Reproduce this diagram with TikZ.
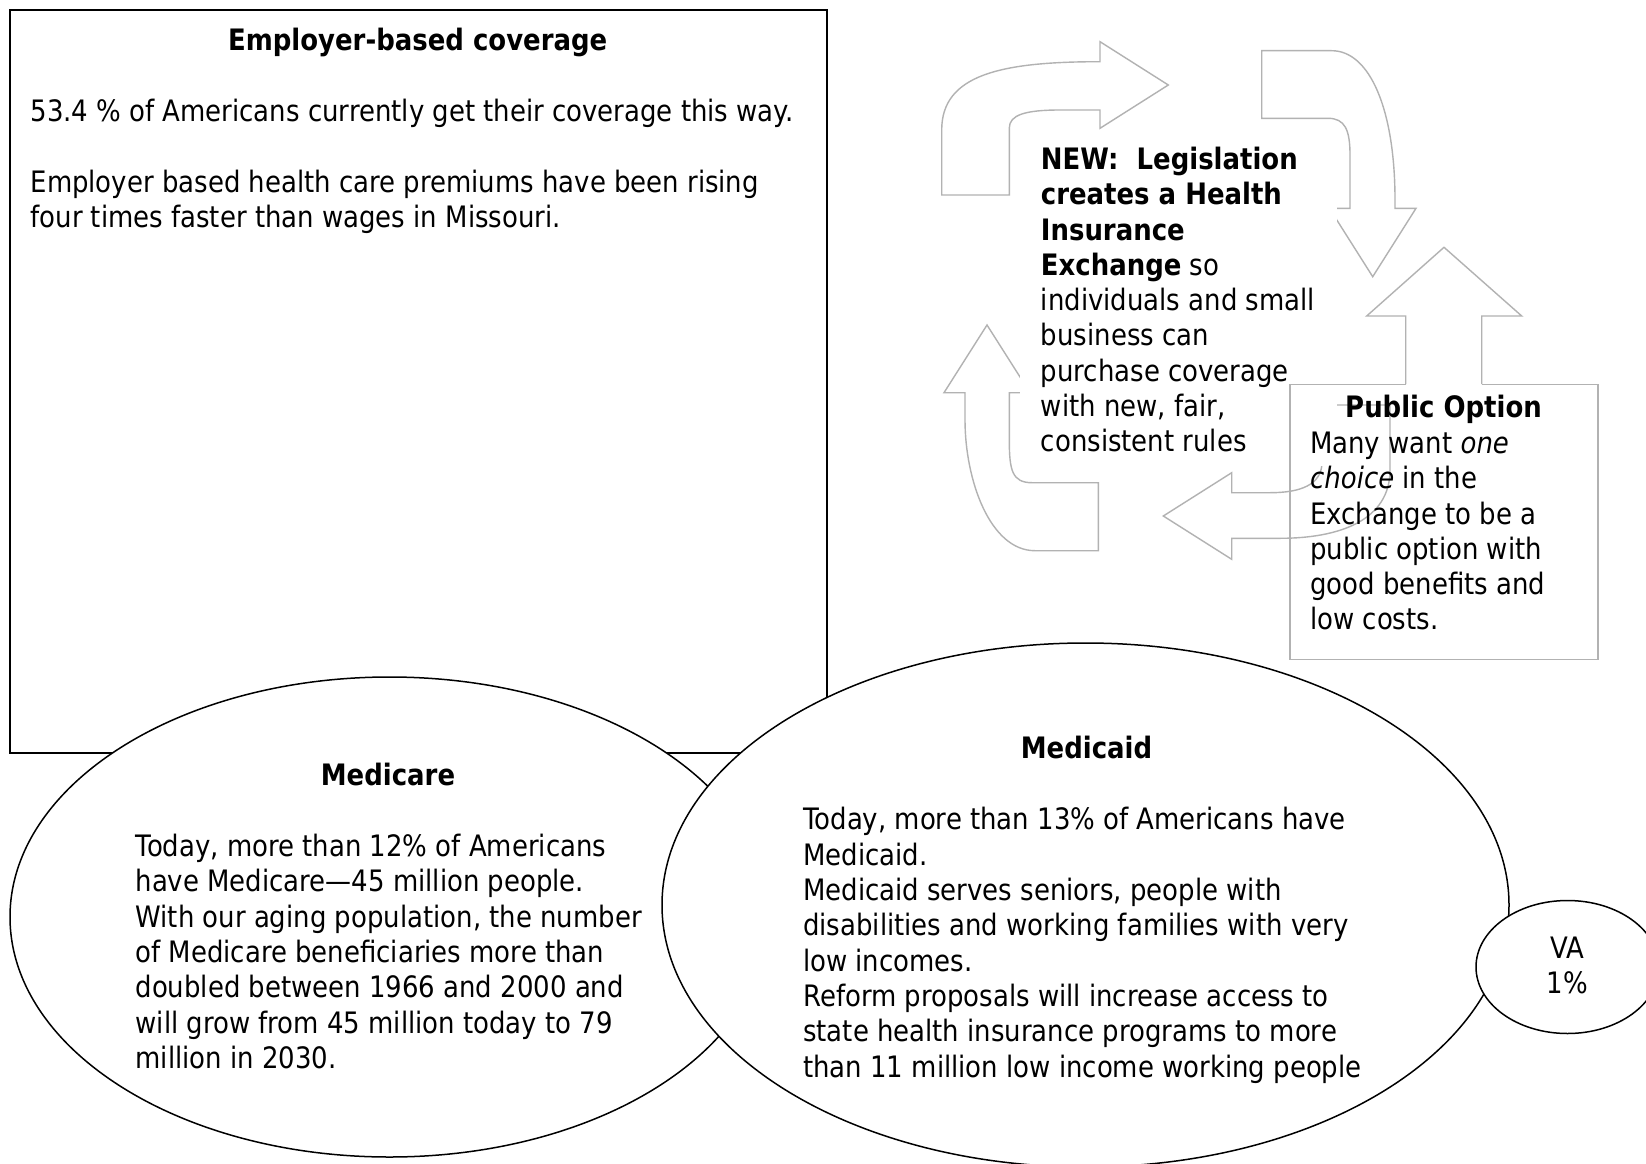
\documentclass[tikz,border=0pt]{standalone}
\usepackage{fontspec}
\setmainfont{DejaVu Sans}[FakeStretch=0.88]
\usetikzlibrary{shapes.geometric}
\definecolor{arrowgray}{RGB}{178,178,178}

\tikzset{
  cyclearrow/.style={draw=arrowgray, line width=1.4pt, fill=white, line join=miter},
  boxline/.style={draw=arrowgray, line width=1.4pt},
  blob/.style={ellipse, draw=black, line width=1.5pt, fill=white, inner sep=0pt},
  body/.style={inner sep=0pt, align=left, anchor=north west, font=\fontsize{29.5}{35.3}\selectfont},
  title/.style={inner sep=0pt, anchor=base, font=\fontsize{29.5}{35.3}\selectfont\bfseries},
}

\begin{document}
\begin{tikzpicture}[x=1pt, y=-1pt]
\useasboundingbox (0,0) rectangle (1646,1164);
\fill[white] (0,0) rectangle (1646,1164);

% ---------- employer box and the three coverage ellipses ----------
\node[draw=black, line width=1.5pt, inner sep=0pt, anchor=north west,
      minimum width=816.6pt, minimum height=742.6pt] (employer) at (9.4,9.4) {};
\node[blob, minimum width=759pt, minimum height=480pt] (medicare) at (389.5,917) {};
\node[blob, minimum width=847pt, minimum height=524pt] (medicaid) at (1085.5,905) {};
\node[blob, minimum width=183pt, minimum height=133pt] (va) at (1567.5,967) {};

\node[title] (emptitle) at (417.7,50.3) {Employer-based coverage};
\node[body] (empbody) at (30.4,96.5) {\strut 53.4 \% of Americans currently get their coverage this way.\\ \mbox{}\\
  Employer based health care premiums have been rising\\ four times faster than wages in Missouri.};

\node[title] (mcaretitle) at (388,785.2) {Medicare};
\node[body] (mcarebody) at (135.4,831.6) {\strut Today, more than 12\% of Americans\\ have Medicare—45 million people.\\
  With our aging population, the number\\ of Medicare beneficiaries more than\\ doubled between 1966 and 2000 and\\
  will grow from 45 million today to 79\\ million in 2030.};

\node[title] (mcaidtitle) at (1086.5,758.5) {Medicaid};
\node[body] (mcaidbody) at (803,805) {\strut Today, more than 13\% of Americans have\\ Medicaid.\\
  Medicaid serves seniors, people with\\ disabilities and working families with very\\ low incomes.\\
  Reform proposals will increase access to\\ state health insurance programs to more\\ than 11 million low income working people};

\node[body, align=center, anchor=north] (vatext) at (1567.5,933.5) {\strut VA\\ 1\%};

% ---------- cycle of block arrows ----------
% top: pointing right
\path[cyclearrow] (941.7,195) -- (941.7,130) .. controls (941.7,75) and (1000,61.7) .. (1100,61.7)
  -- (1100,41.7) -- (1168.3,85) -- (1100,128.3) -- (1100,110) -- (1060,110)
  .. controls (1025,110) and (1009.3,115) .. (1009.3,128) -- (1009.3,195) -- cycle;
% right: pointing down
\path[cyclearrow] (1261.7,50.7) -- (1331.7,50.7) .. controls (1370,50.7) and (1395,110) .. (1395,200)
  -- (1395,208.3) -- (1416,208.3) -- (1372.7,276.7) -- (1329.4,208.3) -- (1350,208.3) -- (1350,155)
  .. controls (1350,130) and (1345,118.3) .. (1328,118.3) -- (1261.7,118.3) -- cycle;
% bottom: pointing left
\path[cyclearrow] (1390,405) -- (1390,470) .. controls (1390,520) and (1340,538.3) .. (1280,538.3)
  -- (1231.7,538.3) -- (1231.7,559.3) -- (1163.3,516) -- (1231.7,472.7) -- (1231.7,492.7) -- (1270,492.7)
  .. controls (1300,492.7) and (1322,485) .. (1322,462) -- (1322,405) -- cycle;
% left: pointing up
\path[cyclearrow] (1098.3,550.7) -- (1035,550.7) .. controls (990,550.7) and (965,480) .. (965,420)
  -- (965,392.7) -- (944,392.7) -- (987,325) -- (1030,392.7) -- (1009.3,392.7) -- (1009.3,440)
  .. controls (1009.3,470) and (1012,482.7) .. (1032,482.7) -- (1098.3,482.7) -- cycle;

% white panel behind the exchange text
\fill[white] (1020,135) rectangle (1336.7,466);

% public option box with the upward arrow rising from it
\node[inner sep=0pt, anchor=north west, minimum width=307.6pt, minimum height=274.8pt] (pubbox) at (1290,384.2) {};
\coordinate (upL) at (1405.7,384.2);
\coordinate (upR) at (1481.7,384.2);
\draw[boxline] (upL) -- (pubbox.north west) -- (pubbox.south west) -- (pubbox.south east)
  -- (pubbox.north east) -- (upR);
\draw[boxline, line join=miter] (upL) -- (1405.7,316) -- (1366.7,316) -- (1444,247.3)
  -- (1521.7,316) -- (1481.7,316) -- (upR);

\node[body] (newtext) at (1040.7,144.5) {\strut\textbf{NEW:~ Legislation}\\ \textbf{creates a Health}\\
  \textbf{Insurance}\\ \textbf{Exchange} so\\ individuals and small\\ business can\\
  purchase coverage\\ with new, fair,\\ consistent rules};

\node[title] (pubtitle) at (1443.5,417) {Public Option};
\node[body] (pubbody) at (1310,428.5) {\strut Many want \textit{one}\\ \textit{choice} in the\\
  Exchange to be a\\ public option with\\ good benefits and\\ low costs.};
\end{tikzpicture}
\end{document}
